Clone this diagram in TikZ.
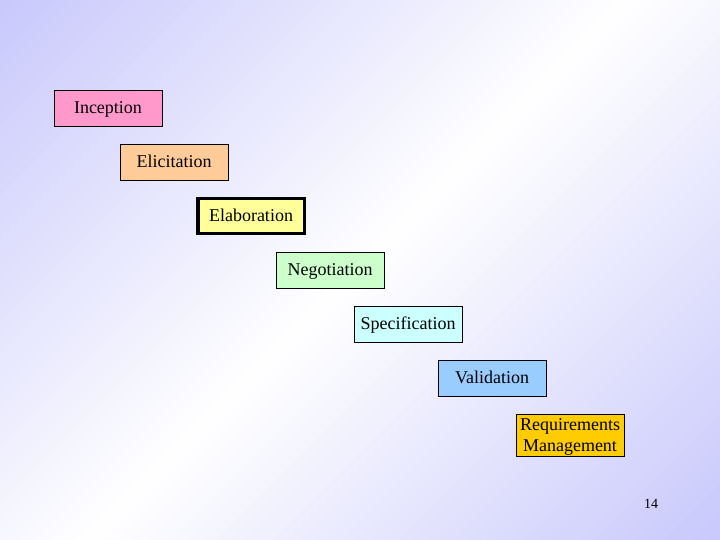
\documentclass[tikz,border=0pt]{standalone}
\usepackage{fontspec}
\setmainfont{Liberation Serif}
\usepackage{xcolor}
\usetikzlibrary{positioning}
\definecolor{lavender}{RGB}{200,200,252}
\definecolor{pinkbox}{RGB}{255,153,204}
\definecolor{peachbox}{RGB}{255,204,153}
\definecolor{yellowbox}{RGB}{255,255,153}
\definecolor{greenbox}{RGB}{204,255,204}
\definecolor{cyanbox}{RGB}{204,255,255}
\definecolor{bluebox}{RGB}{153,204,255}
\definecolor{goldbox}{RGB}{255,204,0}

\begin{document}
\begin{tikzpicture}[x=1pt,y=-1pt,
  phase/.style={shape=rectangle,draw,line width=0.8pt,minimum width=108pt,
    minimum height=36pt,inner sep=2pt,text depth=1pt,font=\fontsize{18}{20.5}\selectfont,align=center}]

% background, diagonal gradient in strips
\begin{scope}
\clip (0,0) rectangle (720,540);
\foreach \i in {0,...,89}{
  \pgfmathsetmacro\sa{14*\i}
  \pgfmathsetmacro\sb{14*\i+15}
  \pgfmathsetmacro\w{100*(1-abs(2*(\i+0.5)/90-1))}
  \fill[white!\w!lavender] (\sa,0) -- (\sb,0) -- (\sb-1300,1300) -- (\sa-1300,1300) -- cycle;
}
\end{scope}
\useasboundingbox (0,0) rectangle (720,540);

\node[phase,fill=pinkbox] (1) at (108,108){Inception};
\node[phase,fill=peachbox] (2) at (174,162){Elicitation};
\node[phase,fill=yellowbox,line width=3.5pt,minimum width=106.5pt,minimum height=34.5pt] (3) at (251,216){Elaboration};
\node[phase,fill=greenbox] (4) at (330,270){Negotiation};
\node[phase,fill=cyanbox] (5) at (408,324){Specification};
\node[phase,fill=bluebox] (6) at (492,378){Validation};
\node[phase,fill=goldbox,minimum height=42pt,text depth=0pt] (7) at (570,435){Requirements\\Management};
\node[font=\fontsize{14}{16}\selectfont] (num) at (651,504){14};

\end{tikzpicture}
\end{document}
